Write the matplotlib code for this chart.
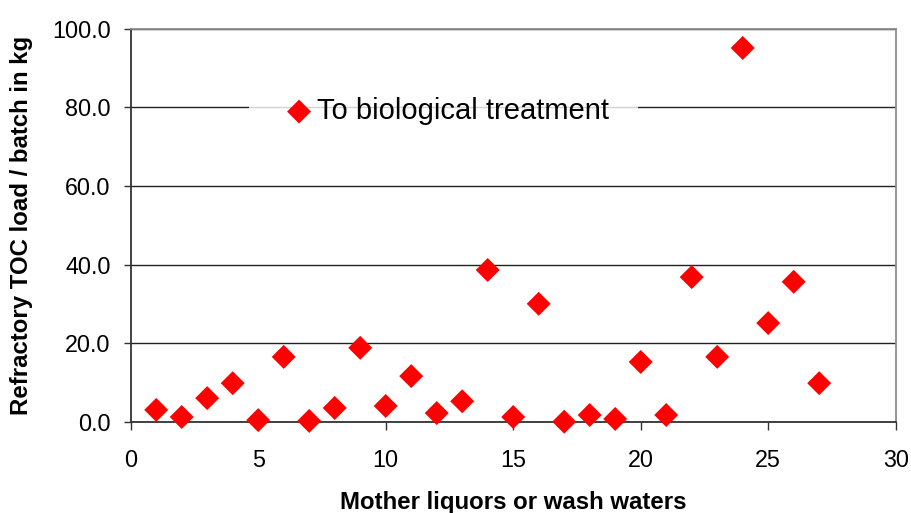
import matplotlib
matplotlib.use("Agg")
import matplotlib.pyplot as plt

plt.rcParams['font.family'] = ['Liberation Sans', 'DejaVu Sans']

# Refractory TOC load per batch for each mother liquor / wash water stream
streams = list(range(1, 28))
toc_load = [3.0, 1.2, 6.0, 9.8, 0.4, 16.5, 0.2, 3.5, 18.8, 4.0,
            11.6, 2.2, 5.2, 38.6, 1.2, 30.0, 0.0, 1.7, 0.7, 15.2,
            1.7, 36.8, 16.5, 95.1, 25.1, 35.6, 9.8]
series_label = "To biological treatment"
x_ticks = [0, 5, 10, 15, 20, 25, 30]
y_ticks = [0, 20, 40, 60, 80, 100]

fig = plt.figure(figsize=(9.12, 5.13), dpi=100)
ax = fig.add_axes([130.7 / 912, 1 - 421.7 / 513, (895.7 - 130.7) / 912, (421.7 - 28.7) / 513])

ax.scatter(streams, toc_load, marker='D', s=12.2 ** 2, color='#ff0000',
           edgecolors='none', zorder=3, label=series_label, clip_on=False)

ax.set_xlim(0, 30)
ax.set_ylim(0, 100)
ax.set_xticks(x_ticks)
ax.set_yticks(y_ticks)
ax.set_yticklabels([f"{v:.1f}" for v in y_ticks])

ax.yaxis.grid(True, color='#222222', linewidth=1.0)
ax.set_axisbelow(True)

for side in ('top', 'right'):
    ax.spines[side].set_color('#8c8c8c')
    ax.spines[side].set_linewidth(1.3)
for side in ('left', 'bottom'):
    ax.spines[side].set_color('#333333')
    ax.spines[side].set_linewidth(1.3)

ax.tick_params(axis='both', direction='out', width=1.0,
               color='#333333', labelsize=16.8, labelcolor='black')
ax.tick_params(axis='x', length=6, pad=14)
ax.tick_params(axis='y', length=5, pad=9.4)

ax.set_xlabel("Mother liquors or wash waters", fontsize=17.3,
              fontweight='bold', va='baseline')
ax.xaxis.set_label_coords(0.5, -0.222)
ax.set_ylabel("Refractory TOC load / batch in kg", fontsize=17.3,
              fontweight='bold')
ax.yaxis.set_label_coords(-0.128, 0.5)

leg = ax.legend(loc='center', bbox_to_anchor=(0.409, 0.79), frameon=True,
                fontsize=21, handletextpad=-0.1, borderpad=1.0,
                handlelength=1.4, scatterpoints=1, borderaxespad=0)
leg.get_frame().set_facecolor('white')
leg.get_frame().set_edgecolor('none')
leg.get_frame().set_boxstyle('square', pad=0.0)

fig.savefig("out.png", dpi=100)
